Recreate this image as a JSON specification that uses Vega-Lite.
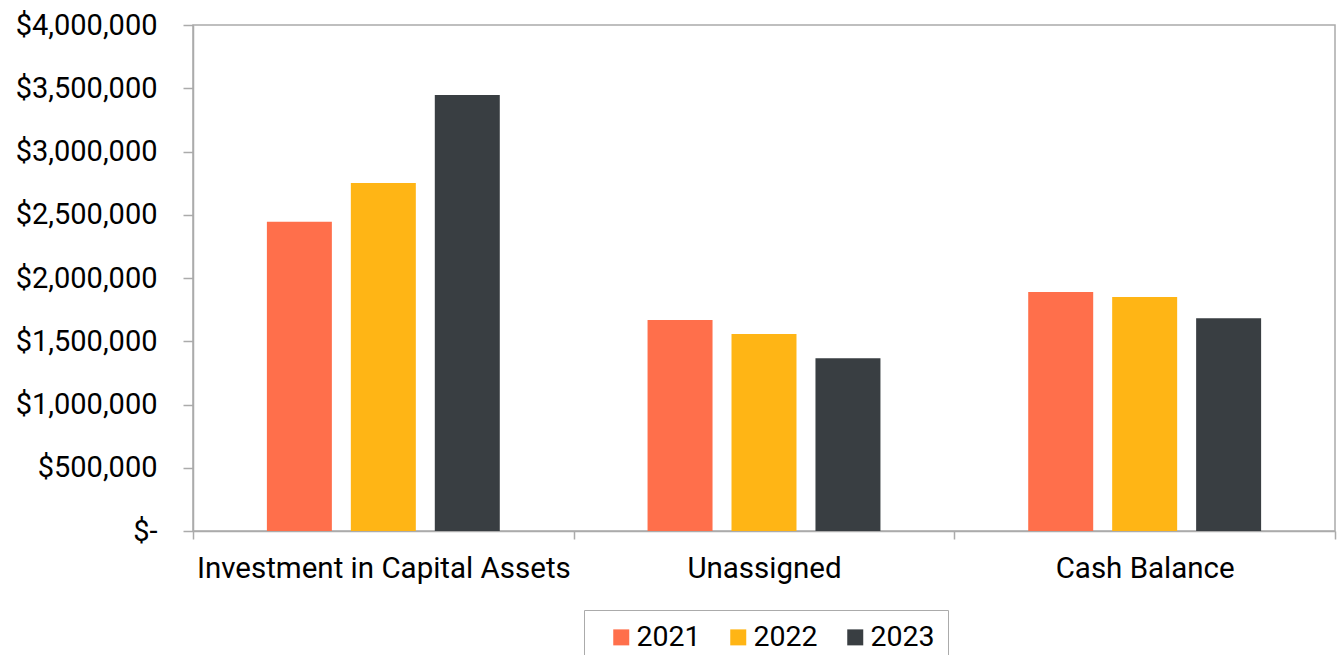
{
  "$schema": "https://vega.github.io/schema/vega-lite/v6.json",
  "autosize": {"type": "none"},
  "width": 1142,
  "height": 506,
  "padding": {"left": 193, "top": 25, "right": 2, "bottom": 124},
  "background": "white",
  "data": {
    "values": [
      {"category": "Investment in Capital Assets", "year": "2021", "value": 2445000},
      {"category": "Investment in Capital Assets", "year": "2022", "value": 2751000},
      {"category": "Investment in Capital Assets", "year": "2023", "value": 3447000},
      {"category": "Unassigned", "year": "2021", "value": 1668000},
      {"category": "Unassigned", "year": "2022", "value": 1557000},
      {"category": "Unassigned", "year": "2023", "value": 1365000},
      {"category": "Cash Balance", "year": "2021", "value": 1889000},
      {"category": "Cash Balance", "year": "2022", "value": 1850000},
      {"category": "Cash Balance", "year": "2023", "value": 1681000}
    ]
  },
  "mark": {"type": "bar"},
  "encoding": {
    "x": {
      "field": "category",
      "type": "nominal",
      "sort": ["Investment in Capital Assets", "Unassigned", "Cash Balance"],
      "scale": {"paddingInner": 0, "paddingOuter": 0},
      "axis": {
        "title": null,
        "labelAngle": 0,
        "labelLimit": 0,
        "tickBand": "extent",
        "tickSize": 8,
        "tickColor": "#ABABAB",
        "tickWidth": 1.5,
        "domainColor": "#ABABAB",
        "domainWidth": 1.5,
        "labelFont": "Roboto",
        "labelFontSize": 29.5,
        "labelColor": "#000000",
        "labelPadding": 15
      }
    },
    "xOffset": {
      "field": "year",
      "type": "nominal",
      "scale": {"paddingInner": 0.226, "paddingOuter": 0.88}
    },
    "y": {
      "field": "value",
      "type": "quantitative",
      "scale": {"domain": [0, 4000000], "nice": false},
      "axis": {
        "title": null,
        "grid": false,
        "values": [0, 500000, 1000000, 1500000, 2000000, 2500000, 3000000, 3500000, 4000000],
        "labelExpr": "datum.value == 0 ? '$-' : '$' + format(datum.value, ',')",
        "tickSize": 10,
        "tickColor": "#ABABAB",
        "tickWidth": 1.5,
        "domainColor": "#ABABAB",
        "domainWidth": 1.5,
        "labelFont": "Roboto",
        "labelFontSize": 29,
        "labelColor": "#000000",
        "labelPadding": 26,
        "labelLimit": 0
      }
    },
    "color": {
      "field": "year",
      "type": "nominal",
      "scale": {"domain": ["2021", "2022", "2023"], "range": ["#FF6F4B", "#FFB515", "#393E42"]},
      "legend": {
        "title": null,
        "orient": "none",
        "legendX": 391,
        "legendY": 585,
        "direction": "horizontal",
        "symbolType": "square",
        "symbolSize": 256,
        "symbolStrokeWidth": 0,
        "symbolOffset": 10,
        "labelOffset": 1,
        "columnPadding": 13,
        "labelFont": "Roboto",
        "labelFontSize": 28.5,
        "labelColor": "#000000",
        "strokeColor": "#ABABAB",
        "padding": 13
      }
    }
  },
  "config": {
    "view": {"stroke": "#ABABAB", "strokeWidth": 1.5}
  }
}
